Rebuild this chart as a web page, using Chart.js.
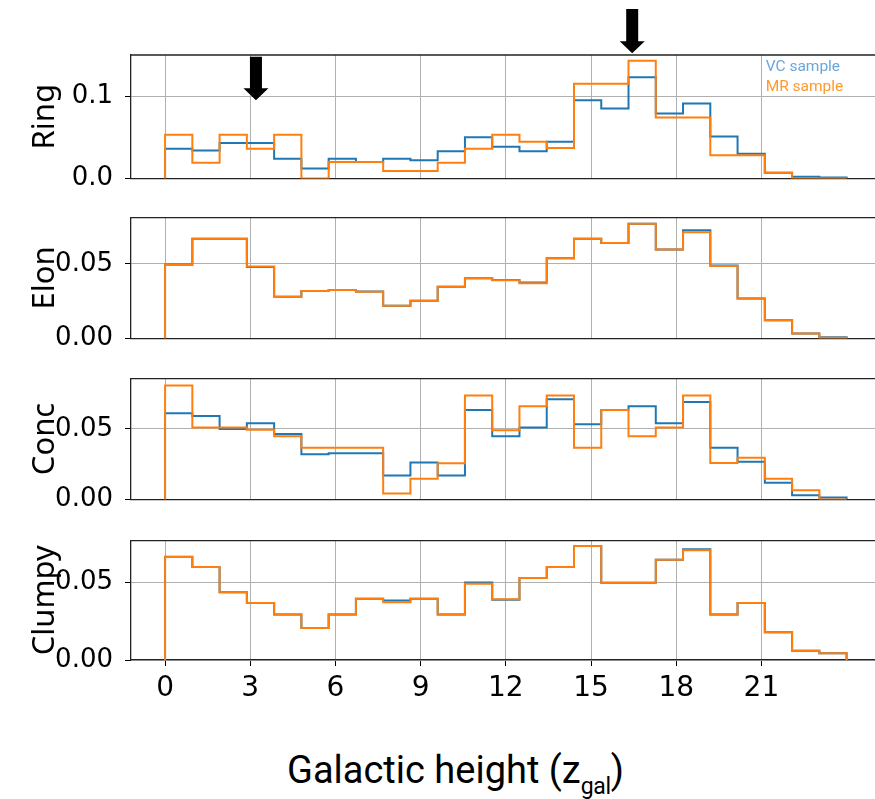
<!DOCTYPE html>
<html>
<head>
<meta charset="utf-8">
<script src="https://cdn.jsdelivr.net/npm/chart.js@4.4.1/dist/chart.umd.min.js"></script>
<style>
  html, body { margin: 0; padding: 0; background: #fff; }
  #wrap { position: relative; width: 875px; height: 799px; overflow: hidden; background: #fff; }
  #wrap canvas { position: absolute; left: 0; }
  #xlabel { position: absolute; left: 287px; top: 750px; font-family: Roboto, sans-serif; font-size: 38px; line-height: 40px; color: #000; white-space: nowrap; }
  #xlabel sub { font-size: 23px; vertical-align: -11px; line-height: 0; letter-spacing: -0.3px; }
</style>
</head>
<body>
<div id="wrap">
  <canvas id="ring"></canvas>
  <canvas id="elon"></canvas>
  <canvas id="conc"></canvas>
  <canvas id="clumpy"></canvas>
  <div id="xlabel">Galactic height (z<sub>gal</sub>)</div>
</div>
<script>
// bin edges of the histograms (25 bins)
var binEdges = [0, 0.96, 1.92, 2.88, 3.84, 4.8, 5.76, 6.72, 7.68, 8.64, 9.6, 10.56, 11.52,
    12.48, 13.44, 14.4, 15.36, 16.32, 17.28, 18.24, 19.2, 20.16, 21.12, 22.08, 23.04, 24];
var xTicks = [0, 3, 6, 9, 12, 15, 18, 21];

var ringVC = [0.036, 0.034, 0.043, 0.043, 0.024, 0.012, 0.024, 0.020, 0.024, 0.022, 0.033, 0.050, 0.0385,
    0.033, 0.0445, 0.095, 0.085, 0.123, 0.079, 0.091, 0.051, 0.030, 0.007, 0.002, 0.001];
var ringMR = [0.053, 0.019, 0.053, 0.036, 0.053, 0, 0.020, 0.020, 0.009, 0.009, 0.019, 0.036, 0.053,
    0.0445, 0.037, 0.115, 0.115, 0.143, 0.074, 0.074, 0.028, 0.028, 0.007, 0, 0];

var elonVC = [0.0495, 0.0669, 0.0669, 0.0478, 0.0279, 0.0318, 0.0325, 0.0314, 0.0219, 0.0252, 0.0346, 0.0404, 0.0392,
    0.0375, 0.0537, 0.0669, 0.064, 0.0768, 0.0596, 0.0726, 0.0489, 0.0268, 0.0121, 0.0033, 0.0007];
var elonMR = [0.0493, 0.0669, 0.0669, 0.0482, 0.0279, 0.0318, 0.0325, 0.0312, 0.0219, 0.0252, 0.0346, 0.0404, 0.039,
    0.037, 0.0537, 0.0669, 0.064, 0.0768, 0.0596, 0.0712, 0.0485, 0.0268, 0.0121, 0.0033, 0.0005];

var concVC = [0.0609, 0.059, 0.0498, 0.0539, 0.0463, 0.0319, 0.0326, 0.0326, 0.0169, 0.0262, 0.0169, 0.0632, 0.0447,
    0.0509, 0.0708, 0.0532, 0.0632, 0.066, 0.0539, 0.069, 0.0366, 0.0266, 0.0118, 0.003, 0.0014];
var concMR = [0.0806, 0.0509, 0.0509, 0.0493, 0.0447, 0.0366, 0.0366, 0.0366, 0.0042, 0.0146, 0.0255, 0.0736, 0.049,
    0.066, 0.0736, 0.0366, 0.0632, 0.0447, 0.0509, 0.0736, 0.0257, 0.0294, 0.0146, 0.0065, 0];

var clumpyVC = [0.0666, 0.0599, 0.0437, 0.0368, 0.0294, 0.0206, 0.0294, 0.0395, 0.0384, 0.0395, 0.0294, 0.050, 0.0388,
    0.0529, 0.0599, 0.0735, 0.0498, 0.0498, 0.0647, 0.0714, 0.0294, 0.0368, 0.0179, 0.0059, 0.0044];
var clumpyMR = [0.0664, 0.0599, 0.0437, 0.0368, 0.0294, 0.0206, 0.0294, 0.0395, 0.0372, 0.0395, 0.0294, 0.0492, 0.0392,
    0.0529, 0.0599, 0.0735, 0.0498, 0.0498, 0.0647, 0.0708, 0.0294, 0.0368, 0.0179, 0.0059, 0.0044];

var seriesNames = ["VC sample", "MR sample"];
var lineColors = ["#1f77b4", "#ff7f0e"];
var textColors = ["#6aa6dc", "#ff9a2a"];

// arrows over the Ring panel (x position, tip and tail in data units)
var arrowX = [3.2, 16.45];
var arrowTip = [0.095, 0.152];
var arrowTail = [0.148, 0.206];

// turn bin values into a step outline like matplotlib histtype='step'
function stepPoints(values) {
    var pts = [{x: binEdges[0], y: 0}];
    for (var i = 0; i < values.length; i++) {
        pts.push({x: binEdges[i], y: values[i]});
    }
    var last = values.length - 1;
    pts.push({x: binEdges[last + 1], y: values[last]});
    pts.push({x: binEdges[last + 1], y: 0});
    return pts;
}

var frameTop = {
    id: 'frameTop',
    afterDraw: function(chart) {
        var a = chart.chartArea, ctx = chart.ctx;
        ctx.save();
        ctx.strokeStyle = '#222';
        ctx.lineWidth = 1.3;
        ctx.beginPath();
        ctx.moveTo(a.left, a.top);
        ctx.lineTo(a.right, a.top);
        ctx.stroke();
        ctx.restore();
    }
};

var ringNotes = {
    id: 'ringNotes',
    afterDraw: function(chart) {
        var ctx = chart.ctx, xs = chart.scales.x, ys = chart.scales.y;
        ctx.save();
        // legend text
        ctx.font = '15.5px Roboto';
        ctx.textBaseline = 'alphabetic';
        ctx.textAlign = 'left';
        ctx.fillStyle = textColors[0];
        ctx.fillText(seriesNames[0], xs.getPixelForValue(21.15), ys.getPixelForValue(0.1305));
        ctx.fillStyle = textColors[1];
        ctx.fillText(seriesNames[1], xs.getPixelForValue(21.15), ys.getPixelForValue(0.1065));
        // arrows
        ctx.fillStyle = '#000';
        for (var i = 0; i < arrowX.length; i++) {
            var cx = xs.getPixelForValue(arrowX[i]);
            var tip = ys.getPixelForValue(arrowTip[i]);
            var tail = ys.getPixelForValue(arrowTail[i]);
            var head = tip - 12;
            ctx.beginPath();
            ctx.moveTo(cx - 6, tail);
            ctx.lineTo(cx + 6, tail);
            ctx.lineTo(cx + 6, head);
            ctx.lineTo(cx + 12.5, head);
            ctx.lineTo(cx, tip);
            ctx.lineTo(cx - 12.5, head);
            ctx.lineTo(cx - 6, head);
            ctx.closePath();
            ctx.fill();
        }
        ctx.restore();
    }
};

function panelConfig(title, vc, mr, yMax, yTicks, decimals, padTop, axisH, isBottom, extra) {
    var plugins = [frameTop];
    if (extra) plugins.push(extra);
    return {
        type: 'line',
        data: {
            datasets: [{
                label: seriesNames[0],
                data: stepPoints(vc),
                borderColor: lineColors[0],
                borderWidth: 2,
                stepped: 'before',
                pointRadius: 0,
                fill: false,
                order: 2
            }, {
                label: seriesNames[1],
                data: stepPoints(mr),
                borderColor: lineColors[1],
                borderWidth: 2,
                stepped: 'before',
                pointRadius: 0,
                fill: false,
                order: 1
            }]
        },
        options: {
            responsive: false,
            maintainAspectRatio: false,
            animation: false,
            events: [],
            layout: { padding: { top: padTop, left: 0, right: 0, bottom: 0 } },
            plugins: { legend: { display: false }, tooltip: { enabled: false } },
            scales: {
                x: {
                    type: 'linear',
                    min: -1.2,
                    max: 25,
                    afterBuildTicks: function(s) {
                        s.ticks = xTicks.map(function(v) { return {value: v}; });
                    },
                    afterFit: function(s) { s.height = axisH; },
                    grid: { color: '#b0b0b0', lineWidth: 1, drawTicks: isBottom, tickLength: 6, tickColor: '#000' },
                    border: { display: true, color: '#222', width: 1.3 },
                    ticks: {
                        display: isBottom,
                        padding: 6,
                        color: '#000',
                        font: { family: 'DejaVu Sans', size: 28 },
                        maxRotation: 0
                    }
                },
                y: {
                    min: 0,
                    max: yMax,
                    afterBuildTicks: function(s) {
                        s.ticks = yTicks.map(function(v) { return {value: v}; });
                    },
                    afterFit: function(s) { s.width = 131; },
                    grid: { color: '#b0b0b0', lineWidth: 1, drawTicks: true, tickLength: 6, tickColor: '#000' },
                    border: { display: true, color: '#222', width: 1.3 },
                    ticks: {
                        padding: 12,
                        color: '#000',
                        font: { family: 'DejaVu Sans', size: 26 },
                        callback: function(v) { return Number(v).toFixed(decimals); }
                    },
                    title: {
                        display: true,
                        text: title,
                        color: '#000',
                        font: { family: 'Noto Sans', size: 31 },
                        padding: { top: 27, bottom: 0 }
                    }
                }
            }
        },
        plugins: plugins
    };
}

function sizeCanvas(canvas, top, h) {
    canvas.width = 875;
    canvas.height = h;
    canvas.style.width = '875px';
    canvas.style.height = h + 'px';
    canvas.style.top = top + 'px';
}

function makePanel(id, title, vc, mr, yMax, yTicks, decimals, areaTop, areaBottom, isBottom, extra) {
    var padTop = id === 'ring' ? areaTop : 25;
    var axisH = isBottom ? 60 : 20;
    var canvas = document.getElementById(id);
    var top = areaTop - padTop;
    var h = (areaBottom - top) + axisH;
    sizeCanvas(canvas, top, h);
    var chart = new Chart(canvas, panelConfig(title, vc, mr, yMax, yTicks, decimals, padTop, axisH, isBottom, extra));

    // the layout may push the plot bottom up; rebuild on a taller canvas so the axis sits where wanted
    var diff = Math.round((areaBottom - top) - chart.chartArea.bottom);
    if (diff !== 0) {
        chart.destroy();
        sizeCanvas(canvas, top, h + diff);
        chart = new Chart(canvas, panelConfig(title, vc, mr, yMax, yTicks, decimals, padTop, axisH, isBottom, extra));
    }
    return chart;
}

makePanel('ring', 'Ring', ringVC, ringMR, 0.15, [0, 0.1], 1, 55, 178, false, ringNotes);
makePanel('elon', 'Elon', elonVC, elonMR, 0.081, [0, 0.05], 2, 215, 338, false, null);
makePanel('conc', 'Conc', concVC, concMR, 0.0855, [0, 0.05], 2, 376, 499, false, null);
makePanel('clumpy', 'Clumpy', clumpyVC, clumpyMR, 0.077, [0, 0.05], 2, 538, 660, true, null);
</script>
</body>
</html>
